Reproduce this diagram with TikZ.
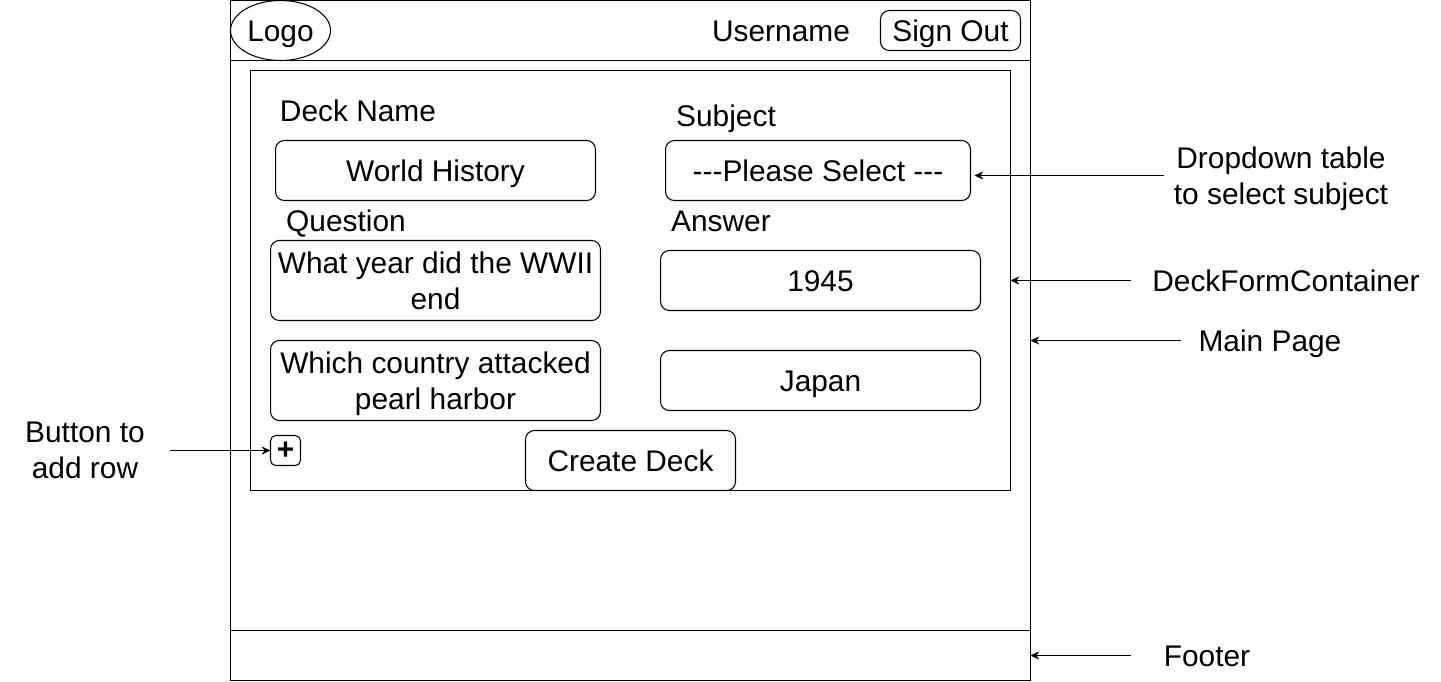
\documentclass[tikz,border=0pt]{standalone}
\usepackage{fontspec}
\setmainfont{Liberation Sans}
\usetikzlibrary{arrows.meta,shapes.geometric}

\newcommand{\linestrut}{\rule[-4pt]{0pt}{20.2pt}}

\tikzset{
    wirebox/.style={draw, line width=0.6pt, inner sep=0pt, outer sep=0pt},
    struttext/.style={execute at begin node=\linestrut, execute at end node=\linestrut},
    twolines/.style={text depth=-0.3pt},
    fieldbox/.style={wirebox, rounded corners=5pt, align=center, struttext},
    caption/.style={inner sep=0pt, outer sep=0pt, align=center, struttext},
    pointer/.style={-{Stealth[length=5pt,width=4.6pt]}, line width=0.6pt},
    every node/.append style={font=\fontsize{17}{20.5}\selectfont}
}

\begin{document}
\begin{tikzpicture}[x=0.02cm, y=-0.02cm]
    \useasboundingbox (0,0) rectangle (1441,681);

    % Draw the page, header, footer and form container
    \node[wirebox, minimum width=16cm, minimum height=13.6cm] (mainpage) at (630.5,340.5) {};
    \node[wirebox, minimum width=16cm, minimum height=1.2cm] (header) at (630.5,30.5) {};
    \node[wirebox, minimum width=16cm, minimum height=1cm] (footer) at (630.5,655.5) {};
    \node[wirebox, minimum width=15.2cm, minimum height=8.4cm] (deckform) at (630.5,280.5) {};

    % Header contents
    \node[wirebox, struttext, ellipse, minimum width=2cm, minimum height=1.2cm] (logo) at (280.5,30.5) {Logo};
    \node[caption] (username) at (781,30.5) {Username};
    \node[fieldbox, minimum width=2.8cm, minimum height=0.8cm] (signout) at (950.5,30.5) {Sign Out};

    % Field titles
    \node[caption] (decknametitle) at (358,110.5) {Deck Name};
    \node[caption] (subjecttitle) at (726,115.5) {Subject};
    \node[caption] (questiontitle) at (346,220.5) {Question};
    \node[caption] (answertitle) at (721,220.5) {Answer};

    % Form fields
    \node[fieldbox, minimum width=6.4cm, minimum height=1.2cm] (deckname) at (435.5,170.5) {World History};
    \node[fieldbox, minimum width=6.1cm, minimum height=1.2cm] (subject) at (818,170.5) {-{}-{}-Please Select -{}-{}-};
    \node[fieldbox, twolines, minimum width=6.6cm, minimum height=1.6cm] (question) at (435.5,280.5) {What year did the WWII\\end};
    \node[fieldbox, minimum width=6.4cm, minimum height=1.2cm] (answer) at (820.5,280.5) {1945};
    \node[fieldbox, twolines, minimum width=6.6cm, minimum height=1.6cm] (questiontwo) at (435.5,380.5) {Which country attacked\\pearl harbor};
    \node[fieldbox, minimum width=6.4cm, minimum height=1.2cm] (answertwo) at (820.5,380.5) {Japan};
    \node[wirebox, rounded corners=3pt, minimum width=0.6cm, minimum height=0.6cm] (addrow) at (285.5,450.5) {\bfseries +};
    \node[fieldbox, minimum width=4.2cm, minimum height=1.2cm] (createdeck) at (630.5,460.5) {Create Deck};

    % Captions outside the page
    \node[caption, twolines] (dropdownnote) at (1281,175.5) {Dropdown table\\to select subject};
    \node[caption] (deckformnote) at (1286,280.5) {DeckFormContainer};
    \node[caption] (mainpagenote) at (1270,340.5) {Main Page};
    \node[caption] (footernote) at (1207,655.5) {Footer};
    \node[caption, twolines] (addrownote) at (85,450.5) {Button to\\add row};

    % Arrows
    \draw[pointer, shorten <=0.2cm, shorten >=0.08cm] (dropdownnote.west) -- (dropdownnote.west -| subject.east);
    \draw[pointer, shorten <=0.42cm] (deckformnote.west) -- (deckform.east);
    \draw[pointer, shorten <=0.36cm] (mainpagenote.west) -- (mainpage.east);
    \draw[pointer, shorten <=0.66cm] (footernote.west) -- (footer.east);
    \draw[pointer, shorten <=0.5cm] (addrownote.east) -- (addrow.west);

\end{tikzpicture}
\end{document}
